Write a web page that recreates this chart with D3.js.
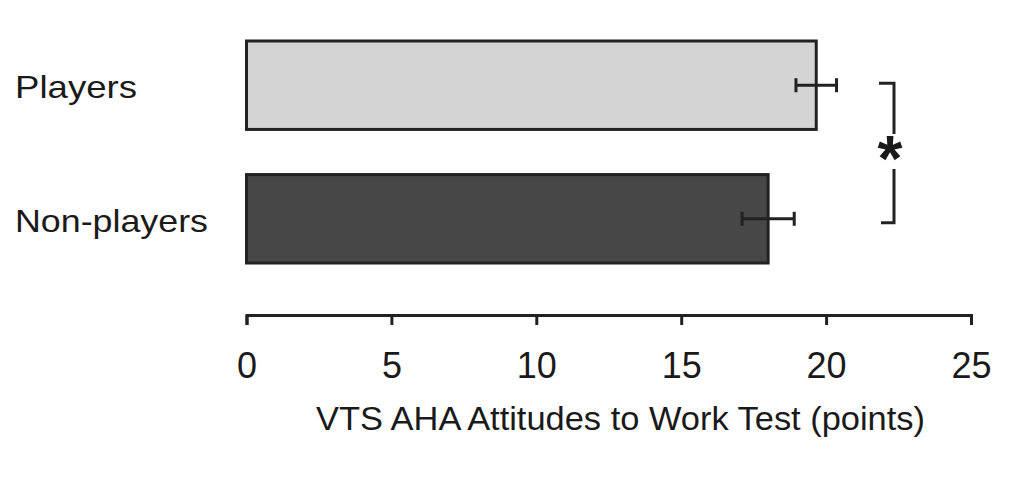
<!DOCTYPE html>
<html>
<head>
<meta charset="utf-8">
<script src="https://cdn.jsdelivr.net/npm/d3@7"></script>
<style>
	body { margin: 0; background: #fff; }
	text { font-family: "Liberation Sans", Arial, sans-serif; fill: #1a1a1a; }
</style>
</head>
<body>
<div id="container"></div>
<script>
// Chart data
const groups = ["Players", "Non-players"];
const means = [19.66, 18.0];
const errors = [0.7, 0.9];
const fills = ["#d4d4d4", "#474747"];
const xTicks = [0, 5, 10, 15, 20, 25];
const xTitle = "VTS AHA Attitudes to Work Test (points)";
const sigMark = "*";

const width = 1024;
const height = 489;
const ink = "#222";

const svg = d3.select("#container").append("svg")
	.attr("width", width)
	.attr("height", height)
	.style("display", "block");

// x scale: value -> horizontal px
const x = d3.scaleLinear()
	.domain([0, 25])
	.range([246.5, 971]);

// y scale: one band per group
const y = d3.scaleBand()
	.domain(groups)
	.range([41, 263])
	.paddingInner(0.338)
	.paddingOuter(0);

const bw = y.bandwidth();
const mid = d => y(d) + bw / 2;

// Bars
svg.selectAll(".bar")
	.data(groups)
	.join("rect")
		.attr("class", "bar")
		.attr("x", x(0))
		.attr("y", d => y(d))
		.attr("width", (d, i) => x(means[i]) - x(0))
		.attr("height", bw)
		.attr("fill", (d, i) => fills[i])
		.attr("stroke", ink)
		.attr("stroke-width", 3);

// Error bars
groups.forEach((g, i) => {
	const lo = x(means[i] - errors[i]);
	const hi = x(means[i] + errors[i]);
	const cy = mid(g);
	svg.append("path")
		.attr("d", d3.line()([[lo, cy], [hi, cy]]))
		.attr("stroke", ink)
		.attr("stroke-width", 3)
		.attr("fill", "none");
	[lo, hi].forEach(px => {
		svg.append("path")
			.attr("d", d3.line()([[px, cy - 7], [px, cy + 7]]))
			.attr("stroke", ink)
			.attr("stroke-width", 3);
	});
});

// Category labels
const labelLen = [122, 193];
svg.selectAll(".cat")
	.data(groups)
	.join("text")
		.attr("class", "cat")
		.attr("x", 15)
		.attr("y", d => mid(d) + 13)
		.attr("font-size", "32px")
		.attr("textLength", (d, i) => labelLen[i])
		.attr("lengthAdjust", "spacingAndGlyphs")
		.text(d => d);

// Significance bracket
const bx = 894;
const bTop = mid(groups[0]) - 2;
const bBot = mid(groups[1]) + 4;
const gapTop = 134, gapBot = 169;
svg.append("path")
	.attr("d", d3.line()([[879, bTop], [bx, bTop], [bx, gapTop]]))
	.attr("stroke", ink)
	.attr("stroke-width", 3)
	.attr("fill", "none");
svg.append("path")
	.attr("d", d3.line()([[bx, gapBot], [bx, bBot], [881, bBot]]))
	.attr("stroke", ink)
	.attr("stroke-width", 3)
	.attr("fill", "none");
svg.append("text")
	.attr("x", bx - 4)
	.attr("y", 181)
	.attr("text-anchor", "middle")
	.attr("font-size", "64px")
	.attr("font-weight", "bold")
	.text(sigMark);

// x axis
const axis = svg.append("g")
	.attr("transform", "translate(0,315)")
	.call(d3.axisBottom(x).tickValues(xTicks).tickSize(10).tickSizeOuter(10).tickFormat(d3.format("d")));

axis.select(".domain").attr("stroke", ink).attr("stroke-width", 3);
axis.selectAll(".tick line").attr("stroke", ink).attr("stroke-width", 3);
axis.selectAll(".tick text")
	.attr("y", 63)
	.attr("dy", 0)
	.attr("font-size", "36px")
	.attr("font-family", "Liberation Sans, Arial, sans-serif")
	.attr("fill", "#1a1a1a");

// x axis title
svg.append("text")
	.attr("x", 620.5)
	.attr("y", 430)
	.attr("text-anchor", "middle")
	.attr("font-size", "33px")
	.attr("textLength", 609)
	.attr("lengthAdjust", "spacingAndGlyphs")
	.text(xTitle);
</script>
</body>
</html>
